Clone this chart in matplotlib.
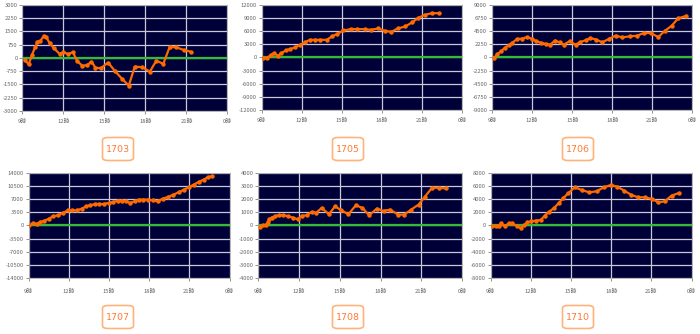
import numpy as np
import matplotlib
matplotlib.use('Agg')
from matplotlib import pyplot as plt
from matplotlib.patches import FancyBboxPatch

plt.rcParams['font.family'] = ['Noto Sans CJK JP', 'DejaVu Sans']

# hours (9 = 9時, 24 = 0時) and cumulative values for each machine
t_1703 = [9.17, 9.46, 9.7, 9.95, 10.1, 10.3, 10.58, 10.75, 11.0, 11.3, 11.73, 12.0, 12.34, 12.7,
          13.0, 13.37, 13.73, 14.05, 14.34, 14.73, 15.27, 15.76, 16.3, 16.78, 17.22, 17.78,
          18.32, 18.8, 19.3, 19.78, 20.27, 20.8, 21.3]
v_1703 = [-110, -360, 170, 640, 925, 960, 1260, 1170, 830, 550, 226, 320, 226, 320,
          -170, -434, -415, -207, -547, -585, -264, -736, -1190, -1566, -490, -528,
          -774, -150, -340, 640, 600, 450, 360]

t_1705 = [9.12, 9.37, 9.67, 9.92, 10.2, 10.45, 10.8, 11.1, 11.5, 11.87, 12.2, 12.62, 12.95,
          13.37, 13.87, 14.25, 14.62, 15.12, 15.67, 16.17, 16.7, 17.17, 17.7, 18.2, 18.7,
          19.2, 19.75, 20.25, 20.7, 21.2, 21.75, 22.25]
v_1705 = [-150, -230, 600, 990, 380, 990, 1600, 1900, 2290, 2900, 3430, 4040, 4040,
          4040, 4040, 4800, 5330, 6170, 6480, 6480, 6480, 6320, 6630, 6100, 5870,
          6630, 7090, 8000, 9000, 9750, 10130, 10130]

t_1706 = [9.12, 9.37, 9.67, 9.95, 10.25, 10.5, 10.87, 11.25, 11.62, 12.0, 12.32, 12.7, 13.07,
          13.37, 13.7, 14.05, 14.37, 14.8, 15.25, 15.62, 16.0, 16.37, 16.8, 17.25, 17.75,
          18.25, 18.75, 19.3, 19.87, 20.37, 20.87, 21.45, 21.95, 22.45, 22.95, 23.55]
v_1706 = [-170, 510, 1075, 1640, 2090, 2490, 3170, 3230, 3510, 3170, 2770, 2490, 2320,
          2210, 2890, 2600, 2210, 2770, 2210, 2660, 2940, 3340, 3060, 2600, 3170,
          3740, 3450, 3620, 3740, 4190, 4190, 3510, 4580, 5430, 6730, 7130]

t_1707 = [9.05, 9.3, 9.6, 9.85, 10.17, 10.5, 10.8, 11.17, 11.54, 11.92, 12.24, 12.6, 12.96,
          13.29, 13.6, 13.96, 14.28, 14.6, 14.96, 15.28, 15.65, 15.97, 16.27, 16.6, 16.9,
          17.22, 17.57, 17.9, 18.27, 18.64, 19.0, 19.4, 19.76, 20.2, 20.6, 20.96, 21.33,
          21.7, 22.08, 22.38, 22.7]
v_1707 = [0, 630, 450, 900, 1250, 1790, 2420, 2690, 3310, 4030, 4030, 4030, 4480,
          5100, 5370, 5730, 5730, 5730, 6000, 6270, 6620, 6620, 6440, 6000, 6440,
          6890, 6890, 6890, 6710, 6440, 7160, 7610, 8140, 8860, 9580, 10200, 10920,
          11640, 12260, 12890, 13160]

t_1708 = [9.12, 9.32, 9.54, 9.69, 9.81, 9.98, 10.23, 10.52, 10.84, 11.2, 11.58, 11.9, 12.2,
          12.56, 12.93, 13.25, 13.67, 14.2, 14.65, 15.1, 15.64, 16.18, 16.67, 17.16, 17.73,
          18.22, 18.71, 19.28, 19.75, 20.26, 20.8, 21.25, 21.79, 22.28, 22.82]
v_1708 = [-100, 25, 25, 227, 454, 605, 706, 781, 781, 706, 580, 479, 731,
          781, 1033, 958, 1336, 857, 1462, 1160, 857, 1538, 1336, 781, 1285,
          1109, 1210, 832, 832, 1210, 1588, 2167, 2873, 2873, 2822]

t_1710 = [9.12, 9.37, 9.6, 9.75, 10.05, 10.35, 10.62, 10.97, 11.24, 11.49, 11.74, 12.04, 12.36,
          12.74, 13.04, 13.36, 13.71, 14.08, 14.41, 14.78, 15.28, 15.78, 16.35, 16.9, 17.45,
          17.97, 18.44, 18.97, 19.51, 20.01, 20.51, 21.06, 21.51, 22.0, 22.5, 23.05]
v_1710 = [-127, -127, -127, 330, -127, 330, 330, -127, -380, 76, 482, 635, 737,
          838, 1500, 2108, 2616, 3429, 4140, 4902, 5817, 5410, 5055, 5207, 5817,
          6172, 5918, 5309, 4648, 4292, 4292, 4038, 3530, 3683, 4546, 4953]

names = ['1703', '1705', '1706', '1707', '1708', '1710']
times = [t_1703, t_1705, t_1706, t_1707, t_1708, t_1710]
values = [v_1703, v_1705, v_1706, v_1707, v_1708, v_1710]
ymax = [3000, 12000, 9000, 14000, 4000, 8000]

xticks = [9, 12, 15, 18, 21, 24]
xtick_labels = ['9時', '12時', '15時', '18時', '21時', '0時']

# axes rectangles in figure fraction
rects = [[0.032, 0.668, 0.293, 0.317],
         [0.374, 0.671, 0.286, 0.314],
         [0.703, 0.671, 0.286, 0.314],
         [0.041, 0.168, 0.287, 0.314],
         [0.369, 0.168, 0.291, 0.314],
         [0.701, 0.168, 0.287, 0.314]]
box_centers = [(118, 149), (348, 149), (578, 149), (118, 317), (348, 317), (578, 317)]

fig = plt.figure(figsize=(7, 3.34), dpi=100)

for i in range(6):
    ax = fig.add_axes(rects[i])
    ax.set_facecolor('#000038')
    ym = ymax[i]
    ax.set_xlim(9, 24)
    ax.set_ylim(-ym, ym)
    ax.set_xticks(xticks)
    ax.set_xticklabels(xtick_labels)
    ax.set_yticks(np.linspace(-ym, ym, 9))
    ax.set_yticklabels([f'{v:g}' for v in np.linspace(-ym, ym, 9)])
    ax.grid(True, color='#c8c8d8', lw=0.9)
    ax.set_axisbelow(True)
    ax.axhline(0, color='#33bb33', lw=1.6, zorder=2)
    ax.plot(times[i], values[i], color='#ff6a00', lw=1.6, marker='o', ms=2.2, zorder=3)
    ax.tick_params(labelsize=4.2, colors='#666666', length=2, width=0.5, pad=1.5)
    ax.tick_params(axis='x', pad=4 if i < 3 else 6)
    for sp in ax.spines.values():
        sp.set_color('#aaaaaa')
        sp.set_linewidth(0.6)

    cx, cy = box_centers[i]
    w, h = 31 / 700, 23 / 334
    x0 = cx / 700 - w / 2
    y0 = 1 - cy / 334 - h / 2
    box = FancyBboxPatch((x0, y0), w, h, boxstyle='round,pad=0,rounding_size=0.008',
                         transform=fig.transFigure, fc='white', ec='#ffb27a', lw=1.2)
    fig.patches.append(box)
    fig.text(cx / 700, 1 - cy / 334, names[i], ha='center', va='center',
             fontsize=6.8, color='#ff7a33', family='DejaVu Sans')

fig.savefig('out.png', dpi=100)
